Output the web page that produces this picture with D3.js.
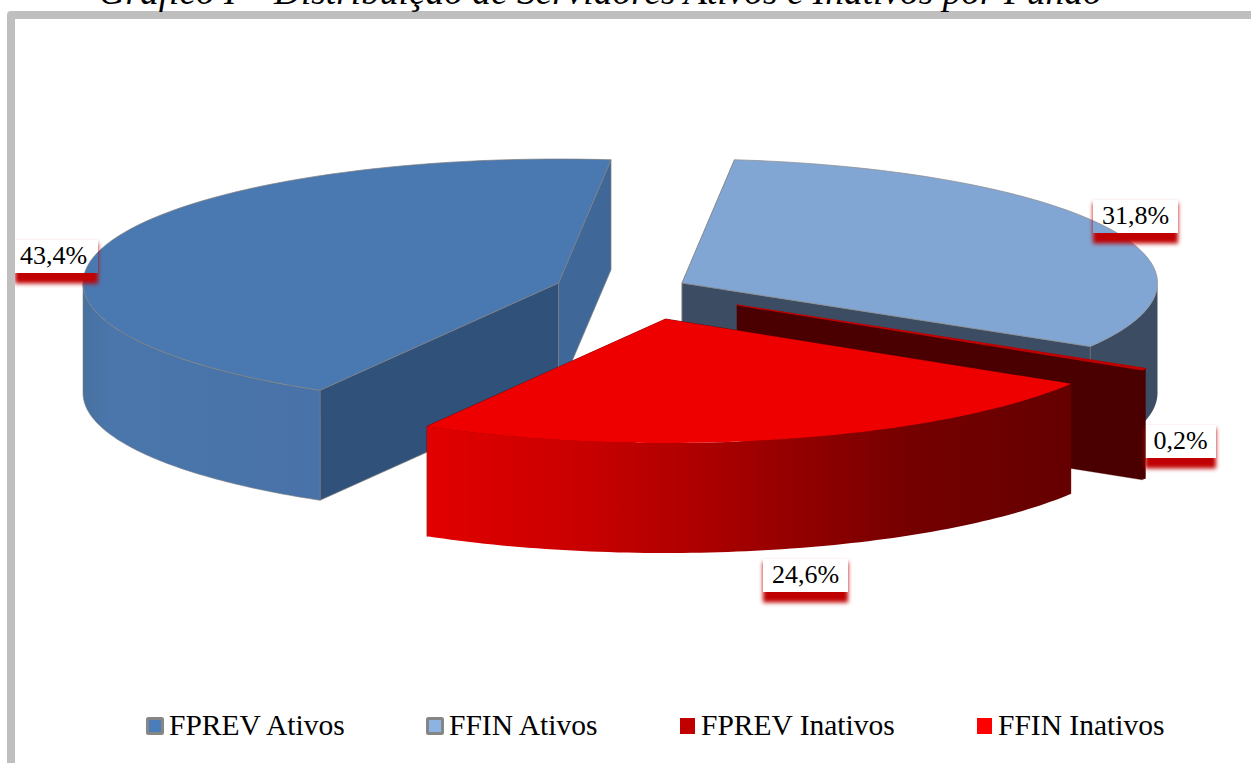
<!DOCTYPE html>
<html><head><meta charset="utf-8">
<script src="https://cdn.jsdelivr.net/npm/d3@7"></script>
<style>html,body{margin:0;padding:0;background:#fff;overflow:hidden}svg{display:block}</style>
</head><body><svg id="c" width="1251" height="763"></svg>
<script>
const categories = ["FPREV Ativos","FFIN Ativos","FPREV Inativos","FFIN Inativos"];
const values = [43.4,31.8,0.2,24.6];
const titleText = "Gráfico I – Distribuição de Servidores Ativos e Inativos por Fundo";
const topColors = ["#4a78b0","#82a6d3","#c00000","#ee0000"];
const startFaceColors = ["#30517a","#3c4d63","#4a0000","#6b0000"];
const endFaceColors = ["#3f6898","#3c4d63","#4a0000","#6b0000"];
const wallStops = [
  [["0","#48719f"],["0.12","#4a76ac"],["1","#4872a8"]],
  [["0","#3c4d63"],["1","#3c4d63"]],
  [["0","#4a0000"],["1","#4a0000"]],
  [["0","#e20000"],["0.25","#c80000"],["0.5","#a00000"],["0.75","#750000"],["1","#650000"]]
];
const edgeColors = ["#7f7f7f","#8a8a8a","#c00000",null];
const legendFills = ["#4a7ebb","#8db3e2","#c00000","#ff0000"];
const legendStrokes = ["#868686","#868686",null,null];

// layout
const rx=475.5, ry=124, depth=110;
const origins=[[558.5,283],[682,283],[737,305],[665.5,319]];
const labelCenters=[[56.5,273],[1135.5,233],[1180.5,458],[805.5,592]];
const labelWidths=[83,85,71,85];
const legendX=[169,449,701,998];

const svg=d3.select("#c");
const defs=svg.append("defs");
const rad=d=>d*Math.PI/180;
const start=rad(210.1);
const pie=d3.pie().sort(null).startAngle(start).endAngle(start+2*Math.PI);
const arcs=pie(values);
const X=d3.scaleLinear().domain([-1,1]).range([-rx,rx]);
const Y=d3.scaleLinear().domain([-1,1]).range([-ry,ry]);
const line=d3.line();
const P=(o,a,z=0)=>[o[0]+X(Math.sin(a)),o[1]+Y(-Math.cos(a))+z];
const samples=(a0,a1)=>d3.range(0,81).map(i=>a0+(a1-a0)*i/80);

const gPie=svg.append("g");
arcs.forEach((d,i)=>{
  const o=origins[i], a0=d.startAngle, a1=d.endAngle;
  const g=gPie.append("g");
  const edge=edgeColors[i];
  // radial faces
  const face=(a,c)=>{
    const pts=[o,P(o,a),P(o,a,depth),[o[0],o[1]+depth]];
    g.append("path").attr("d",line(pts)+"Z").attr("fill",c)
     .attr("stroke",edge?(i==2?c:edge):c).attr("stroke-width",i==2?0.3:0.7);
  };
  face(a0,startFaceColors[i]);
  face(a1,endFaceColors[i]);
  // outer wall: only the front half of the rim, checked on both turns of the circle
  [0,2*Math.PI].forEach(turn=>{
    const lo=Math.max(a0,Math.PI/2+turn), hi=Math.min(a1,1.5*Math.PI+turn);
    if(hi<=lo) return;
    const s=samples(lo,hi);
    const top=s.map(a=>P(o,a)), bot=s.map(a=>P(o,a,depth)).reverse();
    const xs=top.map(p=>p[0]);
    const id="w"+i;
    const gr=defs.append("linearGradient").attr("id",id).attr("gradientUnits","userSpaceOnUse")
      .attr("x1",d3.min(xs)).attr("x2",d3.max(xs)).attr("y1",0).attr("y2",0);
    wallStops[i].forEach(st=>gr.append("stop").attr("offset",st[0]).attr("stop-color",st[1]));
    g.append("path").attr("d",line(top.concat(bot))+"Z").attr("fill","url(#"+id+")")
     .attr("stroke",i==0?edge:"none").attr("stroke-width",0.6);
  });
  // top surface
  const pts=[o].concat(samples(a0,a1).map(a=>P(o,a)));
  g.append("path").attr("d",line(pts)+"Z").attr("fill",topColors[i])
   .attr("stroke",edge||"none").attr("stroke-width",i==2?1.2:0.7);
});

// data labels: red soft shadow with a see-through box knocked out
defs.append("filter").attr("id","blur").attr("x","-20%").attr("y","-30%").attr("width","140%").attr("height","160%")
  .append("feGaussianBlur").attr("stdDeviation",2);
const boxH=33, fmt=v=>d3.format(".1f")(v).replace(".",",")+"%";
const gLab=svg.append("g");
values.forEach((v,i)=>{
  const [cx,b]=labelCenters[i], w=labelWidths[i];
  const x0=cx-w/2, x1=cx+w/2, y0=b-boxH;
  const cid="lc"+i;
  defs.append("clipPath").attr("id",cid).append("path").attr("clip-rule","evenodd")
    .attr("d",`M0 0H1251V763H0Z M${x0} ${y0}H${x1}V${b}H${x0}Z`);
  gLab.append("g").attr("clip-path","url(#"+cid+")")
    .append("rect").attr("x",x0).attr("y",y0+3).attr("width",w).attr("height",boxH+7.5)
    .attr("fill","#c00000").attr("filter","url(#blur)");
  gLab.append("text").attr("x",cx-(i==0?3:0)).attr("y",b-9).attr("text-anchor","middle")
    .attr("font-family","'Liberation Serif'").attr("font-size",26).attr("fill","#000").text(fmt(v));
});

// frame and title
svg.append("rect").attr("x",11).attr("y",15).attr("width",1400).attr("height",1000)
  .attr("fill","none").attr("stroke","#bfbfbf").attr("stroke-width",8).attr("stroke-linejoin","round");
svg.append("text").attr("x",600).attr("y",4).attr("text-anchor","middle")
  .attr("font-family","'Liberation Serif'").attr("font-style","italic").attr("font-size",37.4).text(titleText);

// legend
categories.forEach((c,i)=>{
  const sw=legendStrokes[i];
  if(sw){
    svg.append("rect").attr("x",legendX[i]-21.5).attr("y",718.5).attr("width",15).attr("height",15)
      .attr("fill",legendFills[i]).attr("stroke",sw).attr("stroke-width",3).attr("rx",1);
  }else{
    svg.append("rect").attr("x",legendX[i]-21).attr("y",718).attr("width",15).attr("height",16)
      .attr("fill",legendFills[i]);
  }
  svg.append("text").attr("x",legendX[i]).attr("y",735)
    .attr("font-family","'Liberation Serif'").attr("font-size",29.5).attr("fill","#000").text(c);
});
</script></body></html>
